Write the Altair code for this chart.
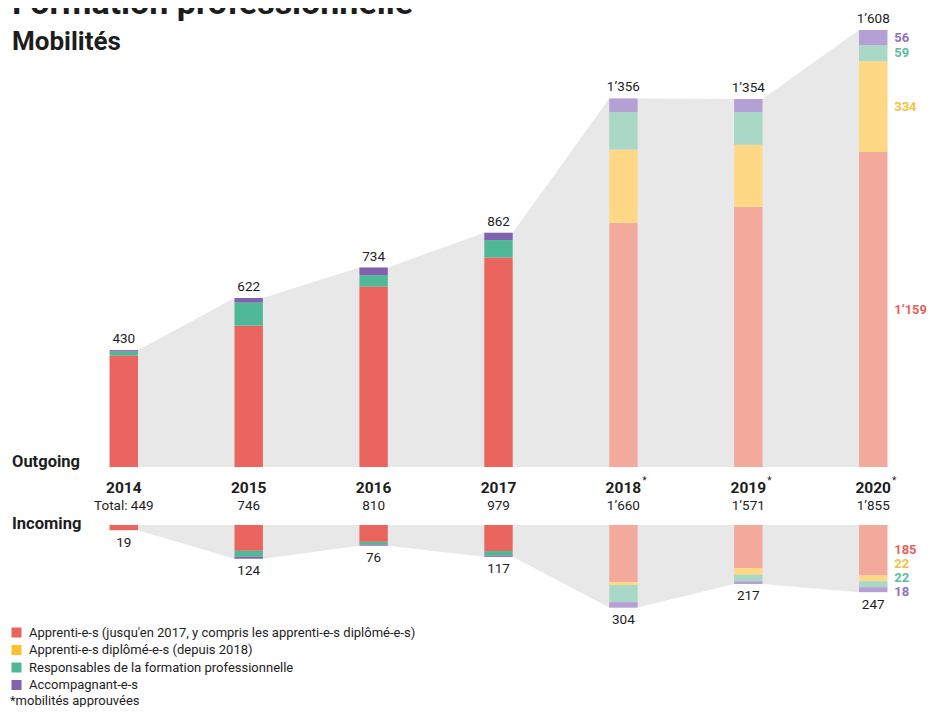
import altair as alt
import pandas as pd

# ---------------- data ----------------
years = [2014, 2015, 2016, 2017, 2018, 2019, 2020]
categories = [
    "Apprenti-e-s (jusqu'en 2017, y compris les apprenti-e-s diplômé-e-s)",
    "Apprenti-e-s diplômé-e-s (depuis 2018)",
    "Responsables de la formation professionnelle",
    "Accompagnant-e-s",
]
# Outgoing
out_apprentis = [410, 520, 664, 771, 899, 958, 1159]
out_diplomes = [0, 0, 0, 0, 269, 228, 334]
out_responsables = [15, 85, 42, 64, 138, 120, 59]
out_accomp = [5, 17, 28, 27, 50, 48, 56]
# Incoming
in_apprentis = [19, 95, 62, 96, 210, 158, 185]
in_diplomes = [0, 0, 0, 0, 11, 25, 22]
in_responsables = [0, 22, 10, 17, 63, 24, 22]
in_accomp = [0, 7, 4, 4, 20, 10, 18]
approved = [False, False, False, False, True, True, True]

# ---------------- styles ----------------
dark_colors = ["#EB655F", "#FDC02F", "#4FB897", "#8262AF"]
light_colors = ["#F4A99D", "#FFD886", "#A9D8C7", "#B4A0D4"]
label_colors = ["#E9625C", "#F6C23E", "#5DBD9F", "#8E72BF"]
FONT = "Roboto"
TXT = "#1d1d1d"

W, H = 919, 699
PX = 0.27177          # pixels per unit
BASE_OUT = 459        # pixel of outgoing baseline
BASE_IN = 517         # pixel of incoming baseline
GAP = (BASE_IN - BASE_OUT) / PX
Y_TOP = BASE_OUT / PX
Y_BOT = -(H - BASE_OUT) / PX
STEP = 124.9          # px per year
X0 = 115.8            # pixel of first year
X_LO = years[0] - X0 / STEP
X_HI = years[0] + (W - X0) / STEP
HW = 14.2 / STEP      # bar half width in years
LABEL_STEP = 14 / PX


def fmt(v):
    return f"{v:,}".replace(",", "\u2019")


out_series = [out_apprentis, out_diplomes, out_responsables, out_accomp]
in_series = [in_apprentis, in_diplomes, in_responsables, in_accomp]
out_tot = [sum(s[i] for s in out_series) for i in range(len(years))]
in_tot = [sum(s[i] for s in in_series) for i in range(len(years))]

rows = []
for i, yr in enumerate(years):
    acc_o = 0
    acc_i = 0
    for c, cat in enumerate(categories):
        key = cat if not approved[i] else cat + " "
        vo = out_series[c][i]
        vi = in_series[c][i]
        if vo > 0:
            rows.append(dict(year=yr, key=key, y0=acc_o, y1=acc_o + vo))
        if vi > 0:
            rows.append(dict(year=yr, key=key, y0=-GAP - acc_i, y1=-GAP - acc_i - vi))
        acc_o += vo
        acc_i += vi
bars = pd.DataFrame(rows)

area_rows = []
for i, yr in enumerate(years):
    for dx in (-HW, HW):
        area_rows.append(dict(x=yr + dx, o_top=out_tot[i], o_bot=0,
                              i_top=-GAP, i_bot=-GAP - in_tot[i]))
areas = pd.DataFrame(area_rows)

totals = pd.DataFrame(dict(
    year=years,
    out_y=out_tot,
    in_y=[-GAP - t for t in in_tot],
    out_lab=[fmt(t) for t in out_tot],
    in_lab=[fmt(t) for t in in_tot],
    year_lab=[str(y) for y in years],
    grand=[("Total: " if i == 0 else "") + fmt(out_tot[i] + in_tot[i]) for i in range(len(years))],
    star=["*" if a else "" for a in approved],
))

# right-side labels for the last year
last = len(years) - 1
rl = []
acc = 0
for c in range(4):
    v = out_series[c][last]
    rl.append(dict(year=years[last], y=acc + v / 2, lab=fmt(v), col=label_colors[c]))
    acc += v
red_mid = -GAP - in_series[0][last] / 2
for c in range(4):
    v = in_series[c][last]
    rl.append(dict(year=years[last], y=red_mid - c * LABEL_STEP, lab=fmt(v), col=label_colors[c]))
right_labels = pd.DataFrame(rl)

# ---------------- scales ----------------
xs = alt.Scale(domain=[X_LO, X_HI], nice=False, zero=False, padding=0)
ys = alt.Scale(domain=[Y_BOT, Y_TOP], nice=False, zero=False, padding=0)
domain_keys = categories + [c + " " for c in categories]
color_scale = alt.Scale(domain=domain_keys, range=dark_colors + light_colors)

area_out = alt.Chart(areas).mark_area(color="#E8E8E8").encode(
    x=alt.X("x:Q", scale=xs, axis=None),
    y=alt.Y("o_top:Q", scale=ys, axis=None),
    y2="o_bot:Q",
)
area_in = alt.Chart(areas).mark_area(color="#E8E8E8").encode(
    x=alt.X("x:Q", scale=xs, axis=None),
    y=alt.Y("i_top:Q", scale=ys, axis=None),
    y2="i_bot:Q",
)

bar_layer = alt.Chart(bars).mark_bar(size=28.4).encode(
    x=alt.X("year:Q", scale=xs, axis=None),
    y=alt.Y("y0:Q", scale=ys, axis=None),
    y2="y1:Q",
    color=alt.Color(
        "key:N", scale=color_scale,
        legend=alt.Legend(
            orient="none", legendX=2, legendY=618, title=None,
            values=categories, symbolType="square", symbolSize=100,
            symbolStrokeWidth=0, symbolOpacity=1, labelFontSize=13,
            labelColor=TXT, labelFont=FONT, rowPadding=3.5, labelOffset=6,
            labelLimit=700,
        ),
    ),
)

base_t = alt.Chart(totals)
tot_out = base_t.mark_text(fontSize=13.5, color=TXT, baseline="middle", dy=-11).encode(
    x=alt.X("year:Q", scale=xs), y=alt.Y("out_y:Q", scale=ys), text="out_lab:N")
tot_in = base_t.mark_text(fontSize=13.5, color=TXT, baseline="middle", dy=12.5).encode(
    x=alt.X("year:Q", scale=xs), y=alt.Y("in_y:Q", scale=ys), text="in_lab:N")
year_txt = base_t.mark_text(fontSize=15.5, fontWeight="bold", color=TXT, baseline="alphabetic").encode(
    x=alt.X("year:Q", scale=xs), y=alt.value(485), text="year_lab:N")
star_txt = base_t.mark_text(fontSize=10, color=TXT, baseline="middle", dx=21).encode(
    x=alt.X("year:Q", scale=xs), y=alt.value(473), text="star:N")
grand_txt = base_t.mark_text(fontSize=13.5, color=TXT, baseline="alphabetic").encode(
    x=alt.X("year:Q", scale=xs), y=alt.value(502), text="grand:N")

right_txt = alt.Chart(right_labels).mark_text(
    fontSize=13, fontWeight="bold", align="left", baseline="middle", dx=21
).encode(
    x=alt.X("year:Q", scale=xs), y=alt.Y("y:Q", scale=ys), text="lab:N",
    fill=alt.Fill("col:N", scale=None),
)


def label(text, x, y, size, weight="normal"):
    return alt.Chart(pd.DataFrame({"t": [text]})).mark_text(
        align="left", baseline="alphabetic", fontSize=size, fontWeight=weight, color=TXT
    ).encode(x=alt.value(x), y=alt.value(y), text="t:N")


chart = alt.layer(
    area_out, area_in, bar_layer,
    tot_out, tot_in, year_txt, star_txt, grand_txt, right_txt,
    label("Formation professionnelle", 4, 6, 34, "bold"),
    label("Mobilités", 4, 42, 26, "bold"),
    label("Outgoing", 4, 459, 16.5, "bold"),
    label("Incoming", 4, 521, 16.5, "bold"),
    label("*mobilités approuvées", 2, 697, 13),
).properties(
    width=W, height=H, padding=0, autosize=alt.AutoSizeParams(type="none"),
).configure(font=FONT).configure_view(stroke=None)

chart.save("out.html", embed_options={"renderer": "svg", "actions": False})
